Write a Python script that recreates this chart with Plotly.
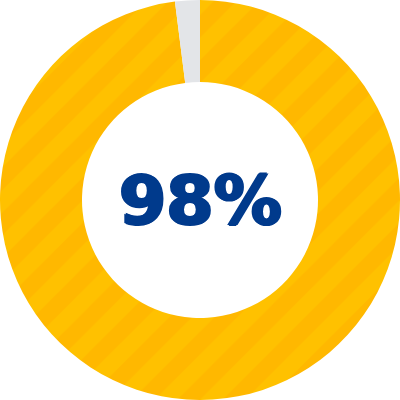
import plotly.graph_objects as go

labels = ["Yes", "No"]
values = [98, 2]
center_label = "98%"

fig = go.Figure(
    go.Pie(
        labels=labels,
        values=values,
        hole=0.59,
        sort=False,
        direction="clockwise",
        rotation=0,
        textinfo="none",
        hoverinfo="label+percent",
        marker=dict(
            colors=["#ffc100", "#e3e5e8"],
            line=dict(width=0),
            pattern=dict(
                shape=["/", ""],
                fgcolor="#ffb800",
                bgcolor=["#ffc100", "#e3e5e8"],
                size=32,
                solidity=0.5,
            ),
        ),
    )
)

fig.update_layout(
    width=400,
    height=400,
    margin=dict(t=0, l=0, r=0, b=0),
    showlegend=False,
    paper_bgcolor="white",
    annotations=[
        dict(
            text=center_label,
            x=0.5,
            y=0.5,
            xref="paper",
            yref="paper",
            showarrow=False,
            font=dict(
                family="DejaVu Sans",
                size=68,
                color="#003a8c",
                weight="bold",
                shadow="1.5px 0 #003a8c, -1.5px 0 #003a8c, 0 1px #003a8c, 0 -1px #003a8c",
            ),
        )
    ],
)

fig.write_html(
    "out.html",
    config={"displayModeBar": False},
    post_script="document.body.style.margin='0';",
)
